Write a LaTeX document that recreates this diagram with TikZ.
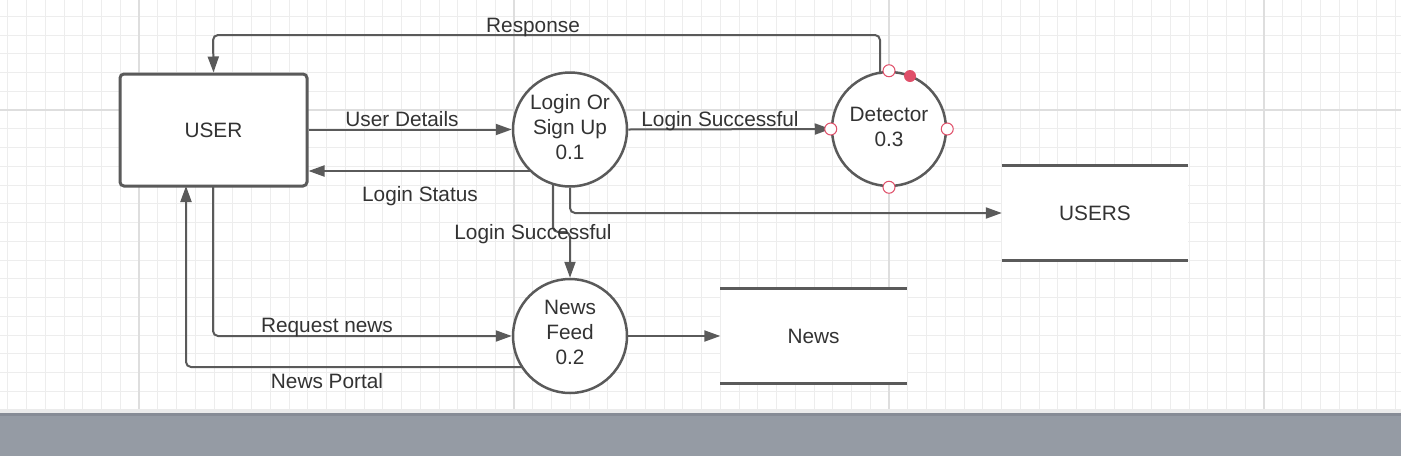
\documentclass[tikz,border=0pt]{standalone}
\usepackage{fontspec}
\setmainfont{Liberation Sans}
\usetikzlibrary{arrows.meta}
\definecolor{linec}{HTML}{5A5A5A}
\definecolor{txtc}{HTML}{333333}
\definecolor{gridminor}{HTML}{EDEDED}
\definecolor{gridmajor}{HTML}{DEDEDE}
\definecolor{barc}{HTML}{959BA4}
\definecolor{bartop}{HTML}{878C96}
\definecolor{pinc}{HTML}{E0506A}
\tikzset{
  every node/.style={text=txtc, font=\fontsize{20.8}{25}\selectfont},
  flow/.style={draw=linec, line width=2pt, rounded corners=5pt, -{Triangle[length=16pt,width=11pt]}},
  proc/.style={circle, draw=linec, line width=2.5pt, fill=white, minimum size=114pt, inner sep=0pt},
  proctext/.style={align=center, inner sep=0pt},
  store/.style={fill=white, minimum width=186pt, minimum height=94pt, inner sep=0pt, text height=14.9pt, text depth=0pt},
  storeline/.style={draw=linec, line width=3pt},
  lbl/.style={inner sep=0pt, text height=14.9pt, text depth=0pt},
  pin/.style={circle, draw=pinc, fill=white, line width=1pt, minimum size=12pt, inner sep=0pt},
  pinfull/.style={circle, fill=pinc, minimum size=12pt, inner sep=0pt}
}
\begin{document}
\begin{tikzpicture}[x=1pt,y=-1pt]
\useasboundingbox (0,0) rectangle (1401,456);
\fill[white] (0,0) rectangle (1401,456);
% grid
\foreach \i in {0,...,74} {\draw[gridminor, line width=1pt] ({7.75+18.75*\i},0) -- ({7.75+18.75*\i},411);}
\foreach \j in {0,...,21} {\draw[gridminor, line width=1pt] (0,{16.25+18.75*\j}) -- (1401,{16.25+18.75*\j});}
\foreach \i in {139,514,889,1264} {\draw[gridmajor, line width=1.5pt] (\i,0) -- (\i,411);}
\draw[gridmajor, line width=1.5pt] (0,110) -- (1401,110);
\fill[gridmajor!60] (0,409) rectangle (1401,413);
% bottom bar
\fill[barc] (0,413) rectangle (1401,456);
\fill[bartop] (0,413) rectangle (1401,416);

% nodes
\node[draw=linec, line width=3pt, rounded corners=4pt, fill=white, minimum width=187pt, minimum height=112pt, inner sep=0pt, text height=14.9pt, text depth=0pt] (user) at (213.5,130) {USER};
\node[proc] (login) at (570,129.5) {};
\node[proctext] (logint) at ([yshift=2.5pt]login.center) {Login Or\\Sign Up\\0.1};
\node[proc] (det) at (889,129) {};
\node[proctext] (dett) at ([yshift=2.5pt]det.center) {Detector\\0.3};
\node[proc] (feed) at (570,336) {};
\node[proctext] (feedt) at ([yshift=3.5pt]feed.center) {News\\Feed\\0.2};
\node[store] (users) at (1095,213) {USERS};
\draw[storeline] (users.north west) -- (users.north east);
\draw[storeline] (users.south west) -- (users.south east);
\node[store] (news) at (813.5,336) {News};
\draw[storeline] (news.north west) -- (news.north east);
\draw[storeline] (news.south west) -- (news.south east);

% connectors
\coordinate (respstart) at (880,74);
\draw[flow] (respstart) -- (880,35) -- (213,35) -- (user.north);
\draw[flow] (user.east |- login.west) -- (login.west);
\coordinate (lsstart) at (531,171);
\draw[flow] (lsstart) -- (user.east |- lsstart);
\draw[flow] (login.east) -- (det.west);
\draw[flow] (login.south) |- (users.west);
\coordinate (lsvstart) at (553,184);
\draw[flow] (lsvstart) -- (553,232) -- (570,232) -- (feed.north);
\coordinate (rqstart) at (213,186);
\draw[flow] (rqstart) |- (feed.west);
\coordinate (npstart) at (522,367);
\coordinate (npend) at (186,186);
\draw[flow] (npstart) -- (186,367) -- (npend);
\draw[flow] (feed.east) -- (news.west);

% detector pins
\node[pin] (p1) at (det.north) {};
\node[pin] (p2) at (det.west) {};
\node[pin] (p3) at (det.east) {};
\node[pin] (p4) at (det.south) {};
\node[pinfull] (p5) at (910,76) {};

% labels
\node[lbl] (l1) at (533,25) {Response};
\node[lbl] (l2) at (402,119) {User Details};
\node[lbl] (l3) at (420,194) {Login Status};
\node[lbl] (l4) at (720,119) {Login Successful};
\node[lbl] (l5) at (533,232) {Login Successful};
\node[lbl] (l6) at (327,325) {Request news};
\node[lbl] (l7) at (327,381) {News Portal};
\end{tikzpicture}
\end{document}
